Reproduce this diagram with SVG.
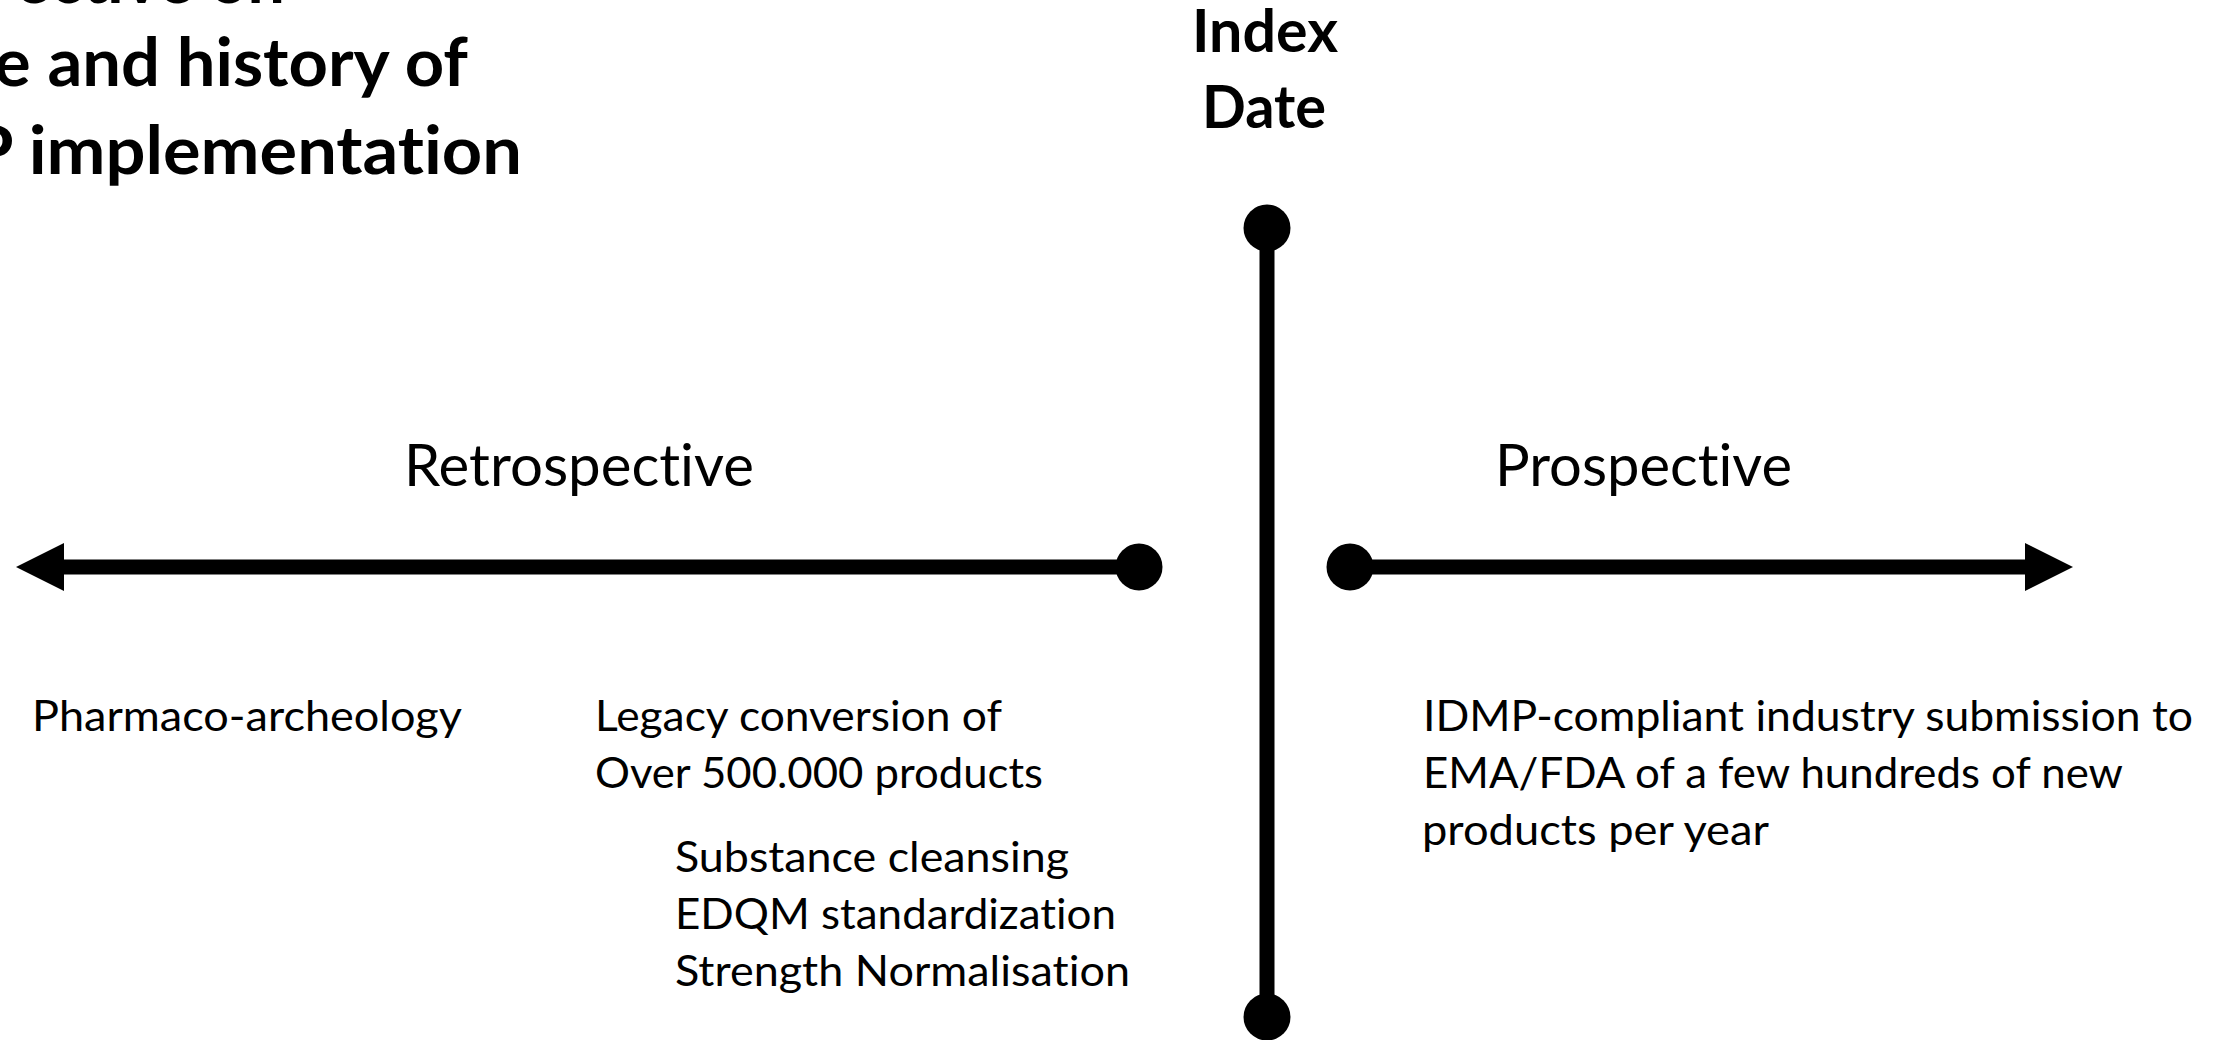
<svg xmlns="http://www.w3.org/2000/svg" width="2223" height="1040" viewBox="0 0 2223 1040">
  <style>
    text { font-variant-ligatures: none; font-feature-settings: "liga" 0, "clig" 0; }
    .title { font-family: Lato, "Open Sans", sans-serif; font-weight: bold; font-size: 67px; fill: #000; }
    .head { font-family: Lato, "Open Sans", sans-serif; font-weight: bold; font-size: 59px; fill: #000; }
    .phase { font-family: Lato, "Open Sans", sans-serif; font-size: 58px; fill: #000; }
    .body { font-family: Lato, "Open Sans", sans-serif; font-size: 43px; fill: #000; }
    .axis { stroke: #000; stroke-width: 15; fill: none; stroke-linecap: butt; }
    .dot { fill: #000; }
  </style>
  <defs>
    <marker id="arrow" viewBox="0 0 48 48" markerWidth="48" markerHeight="48" refX="1" refY="24" orient="auto" markerUnits="userSpaceOnUse">
      <path d="M0,0 L48,24 L0,48 Z" fill="#000"/>
    </marker>
  </defs>
  <rect width="2223" height="1040" fill="#fff"/>

  <g id="title">
    <text class="title" x="15" y="3" textLength="270" lengthAdjust="spacingAndGlyphs">ective on</text>
    <text class="title" x="-6" y="86" textLength="474" lengthAdjust="spacingAndGlyphs">e and history of</text>
    <text class="title" x="-30" y="174" textLength="552" lengthAdjust="spacingAndGlyphs">P implementation</text>
  </g>

  <g id="connectors">
    <line class="axis" x1="1267" y1="228" x2="1267" y2="1017"/>
    <line class="axis" x1="1139" y1="567" x2="63" y2="567" marker-end="url(#arrow)"/>
    <line class="axis" x1="1350" y1="567" x2="2026" y2="567" marker-end="url(#arrow)"/>
  </g>

  <g id="index-date">
    <circle class="dot" cx="1267" cy="228" r="23.5"/>
    <circle class="dot" cx="1267" cy="1017" r="23.5"/>
    <text class="head" x="1265" y="52" text-anchor="middle" textLength="146" lengthAdjust="spacingAndGlyphs">Index</text>
    <text class="head" x="1264" y="128" text-anchor="middle" textLength="124" lengthAdjust="spacingAndGlyphs">Date</text>
  </g>

  <g id="retrospective">
    <circle class="dot" cx="1139" cy="567" r="23.5"/>
    <text class="phase" x="404" y="486" textLength="350" lengthAdjust="spacingAndGlyphs">Retrospective</text>
  </g>

  <g id="prospective">
    <circle class="dot" cx="1350" cy="567" r="23.5"/>
    <text class="phase" x="1495" y="486" textLength="297" lengthAdjust="spacingAndGlyphs">Prospective</text>
  </g>

  <g id="pharmaco-archeology">
    <text class="body" x="32" y="731" textLength="430" lengthAdjust="spacingAndGlyphs">Pharmaco-archeology</text>
  </g>

  <g id="legacy-conversion">
    <text class="body" x="595" y="731" textLength="407" lengthAdjust="spacingAndGlyphs">Legacy conversion of</text>
    <text class="body" x="595" y="788" textLength="448" lengthAdjust="spacingAndGlyphs">Over 500.000 products</text>
  </g>

  <g id="legacy-tasks">
    <text class="body" x="675" y="872" textLength="394" lengthAdjust="spacingAndGlyphs">Substance cleansing</text>
    <text class="body" x="675" y="929" textLength="441" lengthAdjust="spacingAndGlyphs">EDQM standardization</text>
    <text class="body" x="675" y="986" textLength="455" lengthAdjust="spacingAndGlyphs">Strength Normalisation</text>
  </g>

  <g id="idmp-submission">
    <text class="body" x="1423" y="731" textLength="770" lengthAdjust="spacingAndGlyphs">IDMP-compliant industry submission to</text>
    <text class="body" x="1423" y="788" textLength="700" lengthAdjust="spacingAndGlyphs">EMA/FDA of a few hundreds of new</text>
    <text class="body" x="1422" y="845" textLength="347" lengthAdjust="spacingAndGlyphs">products per year</text>
  </g>
</svg>
